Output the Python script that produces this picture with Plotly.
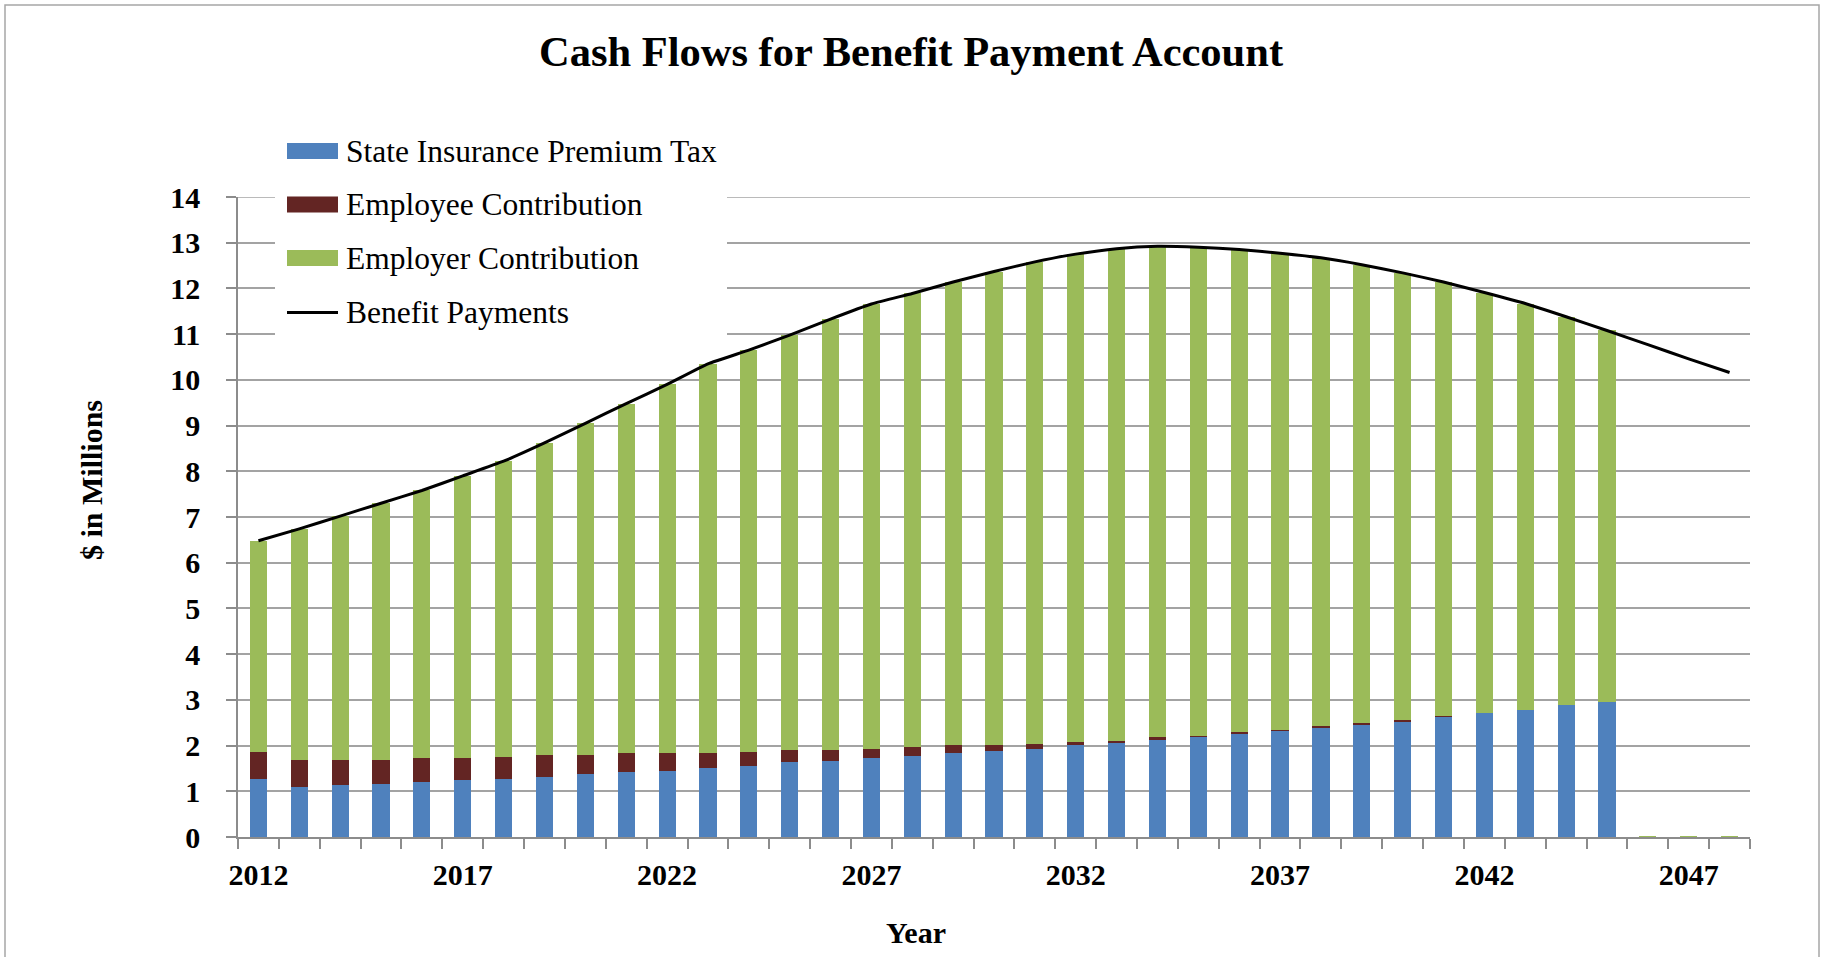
import plotly.graph_objects as go

# ---------------- data ----------------
years = list(range(2012, 2049))

premium_tax = [1.27, 1.10, 1.14, 1.17, 1.21, 1.25, 1.27, 1.31, 1.38, 1.42,
               1.45, 1.52, 1.55, 1.63, 1.66, 1.73, 1.77, 1.83, 1.88, 1.93,
               2.01, 2.05, 2.12, 2.19, 2.26, 2.32, 2.40, 2.46, 2.53, 2.63,
               2.71, 2.77, 2.88, 2.95, 0.0, 0.0, 0.0]

employee = [0.60, 0.59, 0.55, 0.52, 0.52, 0.48, 0.49, 0.49, 0.42, 0.41,
            0.38, 0.31, 0.32, 0.27, 0.24, 0.20, 0.20, 0.18, 0.13, 0.11,
            0.07, 0.06, 0.07, 0.03, 0.03, 0.03, 0.03, 0.03, 0.03, 0.01,
            0.0, 0.0, 0.0, 0.0, 0.0, 0.0, 0.0]

employer = [4.61, 5.05, 5.33, 5.61, 5.85, 6.17, 6.46, 6.82, 7.25, 7.65,
            8.07, 8.52, 8.78, 9.08, 9.43, 9.73, 9.92, 10.13, 10.36, 10.54,
            10.67, 10.76, 10.73, 10.68, 10.56, 10.42, 10.24, 10.03, 9.78, 9.50,
            9.20, 8.90, 8.50, 8.13, 0.02, 0.02, 0.02]

benefits = [6.48, 6.74, 7.02, 7.30, 7.58, 7.90, 8.22, 8.62, 9.05, 9.48,
            9.90, 10.35, 10.65, 10.98, 11.33, 11.66, 11.89, 12.14, 12.37, 12.58,
            12.75, 12.87, 12.92, 12.90, 12.85, 12.77, 12.67, 12.52, 12.34, 12.14,
            11.91, 11.67, 11.38, 11.08, 10.77, 10.46, 10.16]

label_years = [2012, 2017, 2022, 2027, 2032, 2037, 2042, 2047]

series_names = ["State Insurance Premium Tax", "Employee Contribution",
                "Employer Contribution", "Benefit Payments"]

# ---------------- style ----------------
BLUE = "#4F81BD"
RED = "#632523"
GREEN = "#9BBB59"
GRID = "#A3A3A3"
AXIS = "#8C8C8C"
FONT = "Liberation Serif"

W, H = 1822, 957
L, R, T, B = 238, 72, 197, 120
PW, PH = W - L - R, H - T - B
Y_MAX = 14


def px_x(px):
    return (px - L) / PW


def px_y(py):
    return (H - B - py) / PH


fig = go.Figure()
bar_w = 0.42
fig.add_trace(go.Bar(x=years, y=premium_tax, name=series_names[0],
                     marker=dict(color=BLUE, line=dict(width=0)), width=bar_w))
fig.add_trace(go.Bar(x=years, y=employee, name=series_names[1],
                     marker=dict(color=RED, line=dict(width=0)), width=bar_w))
fig.add_trace(go.Bar(x=years, y=employer, name=series_names[2],
                     marker=dict(color=GREEN, line=dict(width=0)), width=bar_w))
fig.add_trace(go.Scatter(x=years, y=benefits, name=series_names[3], mode="lines",
                         line=dict(color="black", width=3, shape="spline", smoothing=0.4)))

shapes = []
annotations = []

# outer border
shapes.append(dict(type="rect", xref="paper", yref="paper",
                   x0=px_x(5), x1=px_x(1819), y0=px_y(975), y1=px_y(5),
                   line=dict(color="#A6A6A6", width=1.5), fillcolor="rgba(0,0,0,0)",
                   layer="below"))

# top gridline at the range maximum
shapes.append(dict(type="line", xref="paper", yref="y",
                   x0=0, x1=1, y0=Y_MAX, y1=Y_MAX,
                   line=dict(color=GRID, width=1.5), layer="below"))

# legend background (covers gridlines)
shapes.append(dict(type="rect", xref="paper", yref="paper",
                   x0=px_x(275), x1=px_x(727), y0=px_y(352), y1=px_y(115),
                   line=dict(width=0), fillcolor="white", layer="above"))

row_y = [151, 204.5, 258, 312.6]
sw_x0, sw_x1 = 287, 338
for i, (nm, col) in enumerate(zip(series_names, [BLUE, RED, GREEN, None])):
    cy = row_y[i]
    if col is not None:
        shapes.append(dict(type="rect", xref="paper", yref="paper",
                           x0=px_x(sw_x0), x1=px_x(sw_x1),
                           y0=px_y(cy + 8), y1=px_y(cy - 8),
                           line=dict(width=0), fillcolor=col, layer="above"))
    else:
        shapes.append(dict(type="line", xref="paper", yref="paper",
                           x0=px_x(sw_x0), x1=px_x(sw_x1),
                           y0=px_y(cy), y1=px_y(cy),
                           line=dict(color="black", width=3), layer="above"))
    annotations.append(dict(text=nm, xref="paper", yref="paper",
                            x=px_x(344), y=px_y(cy), xanchor="left", yanchor="middle",
                            showarrow=False,
                            font=dict(family=FONT, size=31.5, color="black")))

# axis titles
annotations.append(dict(text="$ in Millions", xref="paper", yref="paper",
                        x=px_x(91), y=px_y(480), xanchor="center", yanchor="middle",
                        textangle=-90, showarrow=False,
                        font=dict(family=FONT, size=30, color="black", weight="bold")))
annotations.append(dict(text="Year", xref="paper", yref="paper",
                        x=px_x(916), y=px_y(932), xanchor="center", yanchor="middle",
                        showarrow=False,
                        font=dict(family=FONT, size=30, color="black", weight="bold")))

fig.update_layout(
    width=W, height=H,
    margin=dict(l=L, r=R, t=T, b=B),
    paper_bgcolor="white", plot_bgcolor="white",
    barmode="stack",
    showlegend=False,
    title=dict(text="Cash Flows for Benefit Payment Account",
               x=0.5, xref="container", xanchor="center",
               y=1 - 51 / H, yref="container", yanchor="middle",
               font=dict(family=FONT, size=42.5, color="black", weight="bold")),
    shapes=shapes,
    annotations=annotations,
)

fig.update_xaxes(
    range=[2011.5, 2048.5],
    tickmode="array", tickvals=label_years, ticktext=[str(y) for y in label_years],
    ticks="", showline=True, linecolor=AXIS, linewidth=2,
    showgrid=False, zeroline=False,
    tickfont=dict(family=FONT, size=30, color="black", weight="bold"),
    ticklabelstandoff=10,
    minor=dict(ticks="outside", tick0=2011.5, dtick=1, ticklen=10,
               tickcolor=AXIS, tickwidth=2, showgrid=False),
)

fig.update_yaxes(
    range=[0, Y_MAX], dtick=1, tick0=0,
    showgrid=True, gridcolor=GRID, gridwidth=1.5,
    showline=True, linecolor=AXIS, linewidth=1.5,
    ticks="outside", ticklen=10, tickcolor=AXIS, tickwidth=1.5,
    zeroline=False,
    tickfont=dict(family=FONT, size=30, color="black", weight="bold"),
    ticklabelstandoff=20,
)

fig.write_html("out.html")
